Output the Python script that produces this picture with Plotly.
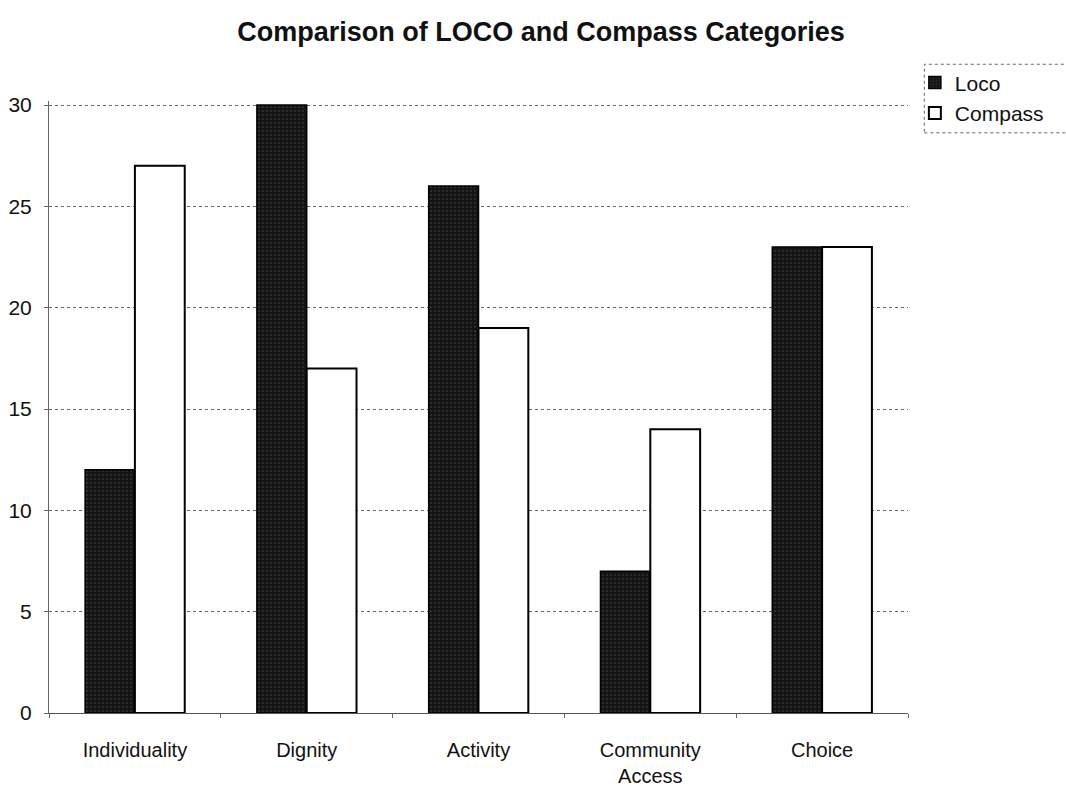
import plotly.graph_objects as go

categories = ["Individuality", "Dignity", "Activity", "Community<br>Access", "Choice"]
loco = [12, 30, 26, 7, 23]
compass = [27, 17, 19, 14, 23]
y_ticks = [0, 5, 10, 15, 20, 25, 30]

fig = go.Figure()
fig.add_trace(go.Bar(
    name="Loco", x=categories, y=loco,
    marker=dict(color="#1c1c1c", line=dict(color="#000000", width=1.5),
                pattern=dict(shape=".", bgcolor="#151515", fgcolor="#6a6a6a",
                             size=4, solidity=0.15)),
))
fig.add_trace(go.Bar(
    name="Compass", x=categories, y=compass,
    marker=dict(color="#ffffff", line=dict(color="#000000", width=2)),
))

# legend frame, open on the right where it runs off the page
fig.add_shape(type="rect", xref="paper", yref="paper",
              x0=1.019, x1=1.2, y0=0.948, y1=1.06,
              line=dict(color="#666", width=1, dash="dot"),
              fillcolor="rgba(0,0,0,0)", layer="below")

fig.update_layout(
    width=1066, height=792,
    margin=dict(l=49, r=158, t=101, b=79),
    paper_bgcolor="white", plot_bgcolor="white",
    barmode="group", bargap=0.42, bargroupgap=0,
    font=dict(family="Liberation Sans, Arial, sans-serif", size=21, color="#111"),
    title=dict(text="<b>Comparison of LOCO and Compass Categories</b>",
               x=0.5075, xanchor="center", y=0.96, yanchor="middle",
               font=dict(size=27, color="#111")),
    showlegend=True,
    legend=dict(x=1.008, y=1.063, xanchor="left", yanchor="top",
                borderwidth=0, bgcolor="rgba(0,0,0,0)",
                font=dict(size=21), itemwidth=30,
                traceorder="normal"),
)
fig.update_yaxes(range=[0, 30.2], tickvals=y_ticks, showgrid=True,
                 gridcolor="#666", griddash="dot", gridwidth=1,
                 showline=True, linecolor="#666", linewidth=1,
                 ticks="outside", ticklen=4, tickcolor="#666",
                 ticklabelstandoff=8, automargin=False,
                 zeroline=False, tickfont=dict(size=21))
fig.update_xaxes(showline=True, linecolor="#555", linewidth=1,
                 showgrid=False, ticks="outside", tickson="boundaries",
                 ticklen=4, tickcolor="#666", ticklabelstandoff=19,
                 automargin=False, tickfont=dict(size=20))

fig.write_html("out.html")
